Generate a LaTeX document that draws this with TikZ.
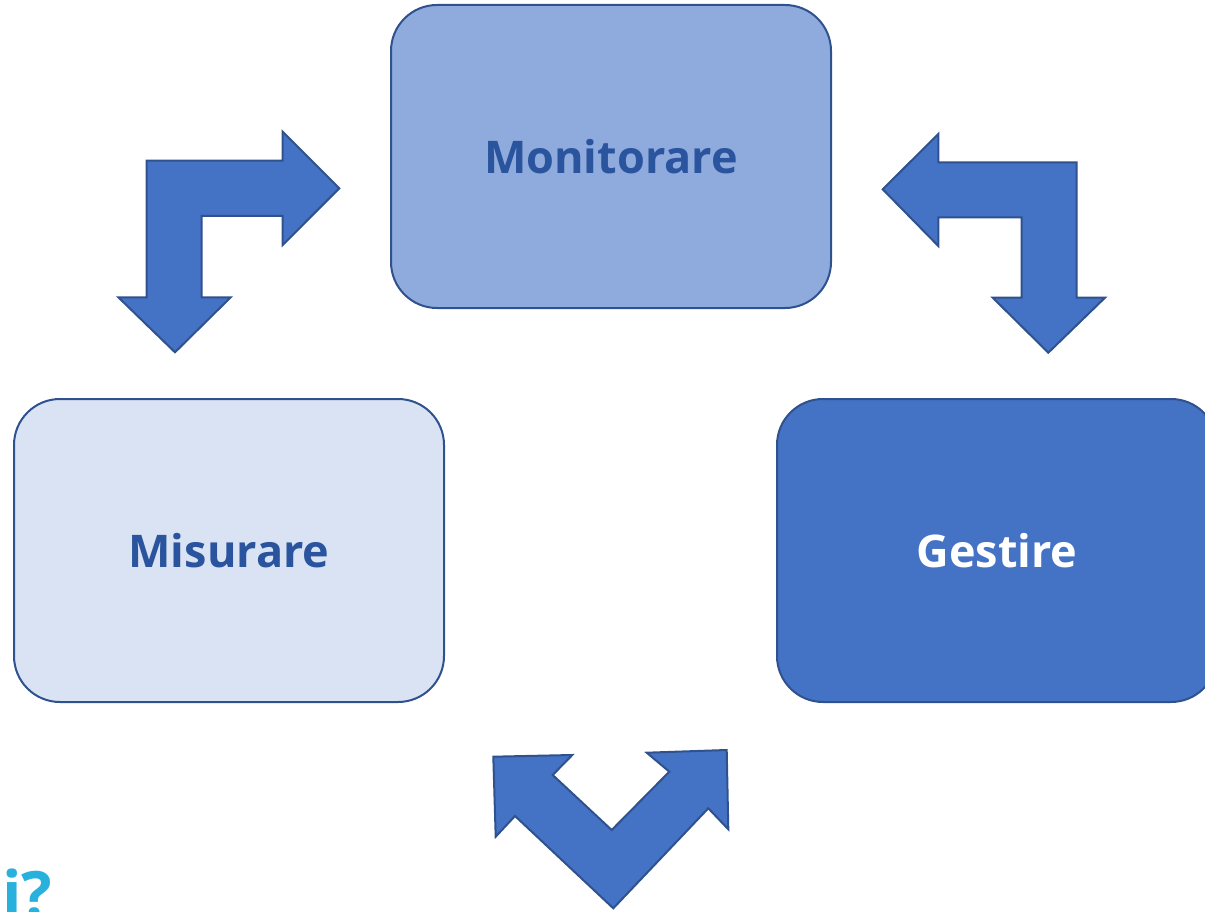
\documentclass[tikz,border=0pt]{standalone}
\usepackage{fontspec}
\setmainfont{Open Sans}
\definecolor{bordo}{HTML}{2F528F}
\definecolor{scuro}{HTML}{4472C4}
\definecolor{medio}{HTML}{8FAADC}
\definecolor{chiaro}{HTML}{DAE3F3}
\definecolor{testo}{HTML}{2A549E}
\definecolor{ciano}{HTML}{29B1DD}

\begin{document}
\begin{tikzpicture}[x=1pt, y=-1pt,
	box/.style={draw=bordo, line width=2pt, rounded corners=46pt, minimum height=303pt,
		font=\fontsize{45}{52}\selectfont\bfseries, text=testo},
	blockarrow/.style={fill=scuro, draw=bordo, line width=2pt, line join=miter}]
	\useasboundingbox (0,0) rectangle (1205,912);
	\node[box, fill=medio, minimum width=440pt] (monitorare) at (611,156.5) {Monitorare};
	\node[box, fill=chiaro, minimum width=430pt] (misurare) at (229,550.5) {Misurare};
	\node[box, fill=scuro, minimum width=440pt, text=white] (gestire) at (997,550.5) {Gestire};
	% frecce
	\draw[blockarrow] (146.7,160.7) -- (282.7,160.7) -- (282.7,131.7) -- (339.3,188.3) -- (282.7,245)
		-- (282.7,216) -- (201.7,216) -- (201.7,297.3) -- (230.7,297.3) -- (175,352.3)
		-- (118.3,297.3) -- (146.7,297.3) -- cycle;
	\draw[blockarrow] (882.7,189.3) -- (938.3,134) -- (938.3,162.3) -- (1076.7,162.3) -- (1076.7,297.7)
		-- (1105,297.7) -- (1048.3,352.7) -- (992.7,297.7) -- (1021.7,297.7) -- (1021.7,217.3)
		-- (938.3,217.3) -- (938.3,246) -- cycle;
	\draw[blockarrow] (613.3,908.3) -- (515,816) -- (495.7,836.7) -- (493.3,756.7) -- (572.3,755)
		-- (552.7,775) -- (611.7,830) -- (669.3,771.7) -- (646.7,752.7) -- (726.7,750)
		-- (728.3,829.3) -- (708.3,808.3) -- cycle;
	\node[anchor=base west, inner sep=0pt, text=ciano, font=\fontsize{64}{64}\selectfont\bfseries] (domanda) at (2,917) {i?};
\end{tikzpicture}
\end{document}
